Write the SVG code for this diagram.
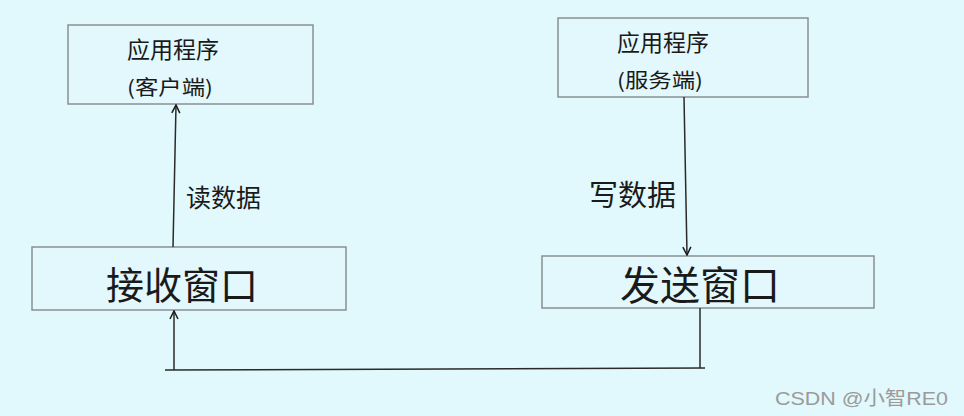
<svg xmlns="http://www.w3.org/2000/svg" width="964" height="416" viewBox="0 0 964 416">
<style>
.box{fill:#e2f8fc;stroke:#8a8f90;stroke-width:1.5}
.t{font-family:"Noto Sans CJK SC","Noto Sans",sans-serif;fill:#1a1a1a}
.c{fill:none;stroke:#2a2a2a;stroke-width:1.5}
</style>
<defs>
<marker id="ah" viewBox="0 0 10 10" refX="9" refY="5" markerWidth="10" markerHeight="10" markerUnits="userSpaceOnUse" orient="auto">
<path d="M1,1 L9,5 L1,9" fill="none" stroke="#1a1a1a" stroke-width="1.5"/>
</marker>
</defs>
<rect width="964" height="416" fill="#e1f8fc"/>
<g id="client">
<rect class="box" x="68" y="25" width="245" height="79"/>
<text class="t" x="127" y="58" font-size="23">应用程序</text>
<text class="t" x="127" y="95" font-size="20" textLength="86" lengthAdjust="spacingAndGlyphs">(客户端)</text>
</g>
<g id="server">
<rect class="box" x="558" y="18" width="250" height="79"/>
<text class="t" x="617" y="51" font-size="23">应用程序</text>
<text class="t" x="617" y="88" font-size="20" textLength="86" lengthAdjust="spacingAndGlyphs">(服务端)</text>
</g>
<g id="recv">
<rect class="box" x="32" y="247" width="314" height="63"/>
<text class="t" x="106" y="299" font-size="38">接收窗口</text>
</g>
<g id="send">
<rect class="box" x="542" y="256" width="332" height="52"/>
<text class="t" x="620" y="300" font-size="40">发送窗口</text>
</g>
<g id="connectors">
<path class="c" d="M173,247 L176,105" marker-end="url(#ah)"/>
<path class="c" d="M684,97 L687,255" marker-end="url(#ah)"/>
<path class="c" d="M700,308 L700,368"/>
<path class="c" d="M165,370 L705,368"/>
<path class="c" d="M174,370 L174,311" marker-end="url(#ah)"/>
</g>
<text class="t" x="186" y="207" font-size="25">读数据</text>
<text class="t" x="589" y="206" font-size="29">写数据</text>
<text x="775" y="405" font-size="19" textLength="173" lengthAdjust="spacingAndGlyphs" font-family="Liberation Sans,'Noto Sans CJK SC',sans-serif" fill="#9a9a9a">CSDN @小智RE0</text>
</svg>
